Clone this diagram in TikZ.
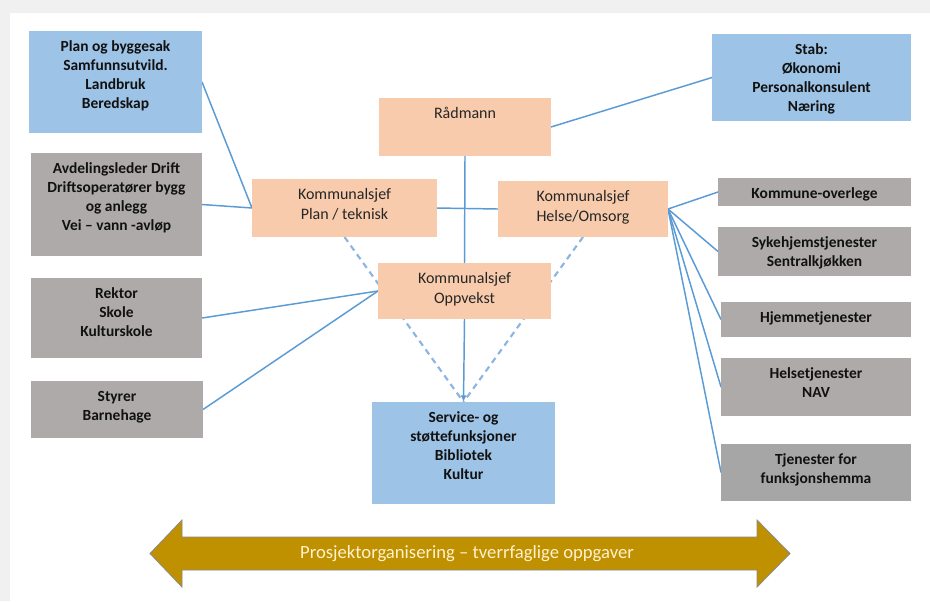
\documentclass[tikz,border=0pt]{standalone}
\usepackage{fontspec}
\setmainfont{Carlito}
\usetikzlibrary{arrows.meta}

\newdimen\pxu \pxu=0.75pt

\definecolor{panelgray}{HTML}{F0F0F0}
\definecolor{orgblue}{HTML}{9DC3E6}
\definecolor{orgpeach}{HTML}{F8CBAD}
\definecolor{orggray}{HTML}{AEAAAA}
\definecolor{orggraydk}{HTML}{A6A6A6}
\definecolor{wire}{HTML}{5B9BD5}
\definecolor{wirelight}{HTML}{8DB4E2}
\definecolor{band}{HTML}{BF9000}
\definecolor{bandedge}{HTML}{8A8A8A}
\definecolor{bandtext}{HTML}{FFF2CC}
\definecolor{boldink}{HTML}{111111}
\definecolor{softink}{HTML}{262626}

% box bodies: width, height (in px units), text lines
\newcommand{\bbody}[3]{\parbox[c][#2\pxu][t]{#1\pxu}{\fontsize{11.6pt}{14.25pt}\bfseries\selectfont\color{boldink}\centering\rule{0pt}{20\pxu}#3}}
\newcommand{\rbody}[3]{\parbox[c][#2\pxu][t]{#1\pxu}{\fontsize{12pt}{15pt}\selectfont\color{softink}\centering\rule{0pt}{20\pxu}#3}}

\pgfdeclarelayer{paper}
\pgfdeclarelayer{wires}
\pgfsetlayers{paper,wires,main}

\begin{document}
\begin{tikzpicture}[x=0.75pt, y=-0.75pt,
  orgbox/.style={fill=#1, inner sep=0pt, outer sep=0pt, anchor=north west},
  wireline/.style={draw=wire, line width=1.1pt},
  softdash/.style={draw=wirelight, line width=1.6pt, dash pattern=on 4.5pt off 3.5pt},
]
\useasboundingbox (0,0) rectangle (930,601);

\begin{pgfonlayer}{paper}
  \fill[panelgray] (0,0) rectangle (930,601);
  \fill[white] (10,13) rectangle (930,601);
\end{pgfonlayer}

% left column
\node[orgbox=orgblue] (plan) at (29,31) {\bbody{173}{102}{Plan og byggesak\\Samfunnsutvild.\\Landbruk\\Beredskap}};
\node[orgbox=orggray] (drift) at (31,153) {\bbody{171}{103}{Avdelingsleder Drift\\Driftsoperatører bygg\\og anlegg\\Vei – vann -avløp}};
\node[orgbox=orggray] (rektor) at (31,278) {\bbody{171}{80}{Rektor\\Skole\\Kulturskole}};
\node[orgbox=orggray] (styrer) at (31,381) {\bbody{172}{57}{Styrer\\Barnehage}};

% management
\node[orgbox=orgpeach] (radmann) at (379,98) {\rbody{172}{58}{Rådmann}};
\node[orgbox=orgpeach] (kplan) at (252,179) {\rbody{185}{58}{Kommunalsjef\\Plan / teknisk}};
\node[orgbox=orgpeach] (khelse) at (498,181) {\rbody{170}{56}{Kommunalsjef\\Helse/Omsorg}};
\node[orgbox=orgpeach] (oppvekst) at (378,263) {\rbody{173}{56}{Kommunalsjef\\Oppvekst}};
\node[orgbox=orgblue] (service) at (372,402) {\bbody{183}{102}{Service- og\\støttefunksjoner\\Bibliotek\\Kultur}};

% right column
\node[orgbox=orgblue] (stab) at (712,34) {\bbody{199}{87}{Stab:\\Økonomi\\Personalkonsulent\\Næring}};
\node[orgbox=orggray] (overlege) at (718,178) {\bbody{193}{28}{Kommune-overlege}};
\node[orgbox=orggray] (sykehjem) at (718,227) {\bbody{193}{49}{Sykehjemstjenester\\Sentralkjøkken}};
\node[orgbox=orggray] (hjemme) at (721,302) {\bbody{190}{35}{Hjemmetjenester}};
\node[orgbox=orggray] (helse) at (721,358) {\bbody{190}{58}{Helsetjenester\\NAV}};
\node[orgbox=orggraydk] (funk) at (721,444) {\bbody{190}{57}{Tjenester for\\funksjonshemma}};

% connectors, kept beneath the boxes
\begin{pgfonlayer}{wires}
  \draw[wireline] (plan.east) -- (kplan.west);
  \draw[wireline] (drift.east) -- (kplan.west);
  \draw[wireline] (rektor.east) -- (oppvekst.west);
  \draw[wireline] (styrer.east) -- (oppvekst.west);
  \draw[wireline] (radmann.east) -- (stab.west);
  \draw[wireline] (kplan.east) -- (khelse.west);
  \draw[wireline] (radmann.south) -- (oppvekst.north);
  \draw[wireline, -{Latex[length=5pt, width=4.5pt]}] (oppvekst.south) -- (service.north);
  \draw[softdash] (kplan.south) -- (service.north);
  \draw[softdash] (khelse.south) -- (service.north);
  \foreach \t in {overlege, sykehjem, hjemme, helse, funk}
    \draw[wireline] (khelse.east) -- (\t.west);
\end{pgfonlayer}

% cross-cutting project band
\filldraw[fill=band, draw=bandedge, line width=0.6pt]
  (150,553.5) -- (182,520) -- (182,537) -- (757,537) -- (757,520) -- (790,553.5)
  -- (757,587) -- (757,570) -- (182,570) -- (182,587) -- cycle;
\node[text=bandtext, font=\fontsize{14pt}{16pt}\selectfont, inner sep=0pt] (bandlabel) at (467,553.5) {Prosjektorganisering – tverrfaglige oppgaver};
\end{tikzpicture}
\end{document}
